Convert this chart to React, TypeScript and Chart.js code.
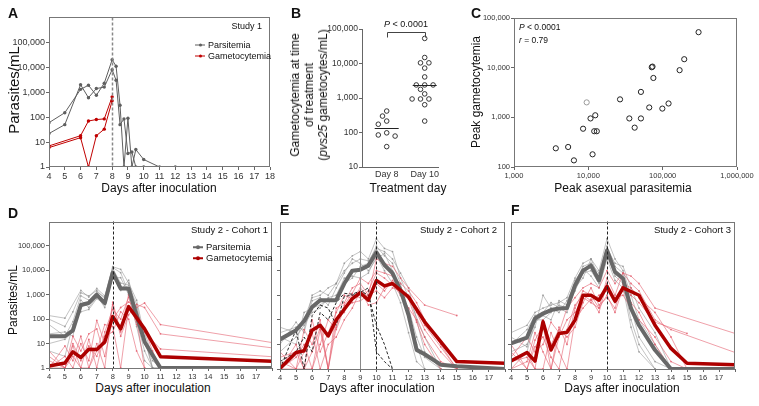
import React, { useEffect, useRef } from 'react';
import { Chart, registerables } from 'chart.js';
Chart.register(...registerables);

const FONT = "'Liberation Sans', Arial, Helvetica, sans-serif";
Chart.defaults.font.family = FONT;

// ---------------- shared ticks ----------------
const DAY_TICKS = [4, 5, 6, 7, 8, 9, 10, 11, 12, 13, 14, 15, 16, 17, 18];
const PARA_TICKS = [1, 10, 100, 1000, 10000, 100000];

// ---------------- Panel A (Study 1) ----------------
const A_PARA_DAYS = [4, 5, 6, 6.5, 7, 7.5, 8, 8.25, 8.5, 8.75, 9, 9.25, 9.5, 10, 11, 12];
const A_PARA_1 = [60, 150, 1300, 1900, 750, 2300, 20000, 11000, 300, 1, 90, 1, 5, 2, 1, 1];
const A_PARA_2 = [22, 50, 2000, 600, 1400, 1600, 8000, 3000, 50, 85, 3.5, 4, 1, 1, null, null];
const A_GAM_DAYS = [4, 6, 6.5, 7, 7.5, 8];
const A_GAM_1 = [7, 18, 70, 80, 85, 650];
const A_GAM_2 = [6, 15, 1, 18, 33, 450];
const A_TREAT_DAY = 8;

// ---------------- Panel B ----------------
const B_GROUPS = ['Day 8', 'Day 10'];
const B_DAY8 = [420, 300, 215, 174, 98, 85, 79, 39];
const B_DAY10 = [53700, 15000, 10500, 10500, 7400, 4100, 2400, 2400, 2400, 1790, 1320, 940, 940, 940, 640, 215];
const B_MEDIANS = [135, 2400];
const B_TICKS = [10, 100, 1000, 10000, 100000];

// ---------------- Panel C ----------------
const C_ASEXUAL = [304000, 195000, 169000, 71300, 73000, 75000, 51000, 26700, 66000, 99000, 120000, 35600, 51000, 42000, 10700, 12400, 8500, 12000, 13000, 3650, 5350, 11400, 6400];
const C_GAMETO = [51800, 14800, 8900, 10200, 10500, 6200, 3250, 2300, 1580, 1500, 1900, 950, 950, 620, 950, 1100, 590, 525, 525, 238, 253, 180, 136];
const C_ASEXUAL_GREY = [9500];
const C_GAMETO_GREY = [2000];
const C_X_TICKS = [1000, 10000, 100000, 1000000];
const C_Y_TICKS = [100, 1000, 10000, 100000];

// ---------------- Panel D (Cohort 1) ----------------
const D_DAYS = [4, 5, 5.5, 6, 6.5, 7, 7.5, 8, 8.5, 9, 9.5, 10, 10.5, 11, 18];
const D_PARA_MEAN = [20, 20, 35, 380, 460, 1000, 450, 8000, 1800, 1800, 140, 12, 3.4, 1, 1];
const D_GAM_MEAN = [1.2, 1.6, 4.6, 2.7, 5.9, 5.7, 11.7, 128, 40, 325, null, 40, null, 2.9, 1.9];
const D_PARA_S1 = [140, 110, null, 1500, 800, 1800, 900, 14000, 11000, 3000, 600, 20, 1, 1, null];
const D_PARA_S2 = [100, 50, 200, 1200, 900, 1500, 700, 12000, 3000, 2500, 400, 10, 2, 1, null];
const D_PARA_S3 = [10, 15, 30, 300, 500, 900, 300, 6000, 2000, 1500, 80, 5, 1, null, null];
const D_PARA_S4 = [25, 30, 20, 600, 300, 800, 500, 9000, 1500, 4000, 200, 30, 3, 1, null];
const D_PARA_S5 = [5, 3, 60, 200, 250, 700, 400, 5000, 5000, 1000, 50, 2, 1, null, null];
const D_PARA_S6 = [60, 20, 80, 900, 600, 1300, 800, 13000, 8000, 1200, 300, 15, 1, 1, null];
const D_GAM_S1 = [2, 1, 20, 5, 25, 40, 3, 100, 300, 500, 300, 460, null, 60, 11];
const D_GAM_S2 = [1, 3, 1, 10, 2, 90, 10, 400, 20, 150, 400, 300, null, 25, 6.7];
const D_GAM_S3 = [5, 1, 8, 1, 15, 1, 30, 250, 100, 800, 60, null, null, 6, 2.9];
const D_GAM_S4 = [1, 8, 2, 20, 1, 5, 60, 50, 1, 300, 100, 1, null, null, null];
const D_GAM_S5 = [3, 1, 10, 2, 8, 3, 20, 30, 200, 100, 5, 1, null, null, null];
const D_GAM_S6 = [1, 1, 3, 1, 1, 10, 1, 500, 30, 1000, 200, 40, 5, 1, null];
const D_TREAT_DAY = 8;

// ---------------- Panel E (Cohort 2) ----------------
const E_DAYS = [4, 5, 5.5, 6, 6.5, 7, 7.5, 8, 8.5, 9, 9.5, 10, 10.5, 11, 11.5, 12, 12.5, 13, 14, 15, 18];
const E_PARA_MEAN = [16, 38, 90, 330, 630, 630, 630, 3000, 10000, 11000, 16000, 56000, 17000, 8000, 1600, 155, 6, 4, 1.5, 1.3, 1];
const E_GAM_MEAN = [1.05, 4.7, 5.5, 38, 60, 22, 100, 270, 730, 1260, 630, 4000, 2400, 3000, 1600, 850, null, 83, 13, 2, 1.7];
const E_PARA_S1 = [50, 30, 100, 800, 1000, 2000, 3000, 20000, 40000, 60000, 30000, 200000, 80000, 60000, 5000, 800, null, 20, 1, null, null];
const E_PARA_S2 = [20, 10, 200, 300, 400, 700, 600, 3000, 5000, 15000, 20000, 100000, 40000, 20000, 3000, 100, 10, 1, null, null, null];
const E_PARA_S3 = [10, 80, 30, 600, 800, 400, 2000, 8000, 30000, 20000, 10000, 30000, 50000, 10000, 1000, 300, 20, 3, 1, null, null];
const E_PARA_S4 = [5, 20, 60, 200, 300, 800, 1000, 5000, 6000, 5000, 8000, 40000, 10000, 3000, 500, 30, 2, 1, null, null, null];
const E_PARA_S5 = [30, 50, 40, 1000, 1500, 1000, 3000, 10000, 20000, 30000, 25000, 80000, 60000, 30000, 8000, 2000, 100, 5, 1, null, null];
const E_PARA_K1 = [1, 40, 1, 150, 400, 300, 60, 900, 1000, 1300, 2000, 5, 2, 1, null, null, null, null, null, null, null];
const E_PARA_K2 = [2, 5, 20, 5, 200, 100, 500, 1200, 1100, 1500, 1000, 60, 10, 1, null, null, null, null, null, null, null];
const E_GAM_S1 = [1, 3, 10, 1, 40, 1, 300, 500, 2000, 3000, 1000, 30000, 20000, 15000, 5000, 2000, null, 400, null, 150, null];
const E_GAM_S2 = [5, 1, 40, 10, 100, 1, 50, 400, 1200, 5000, 3000, 10000, 8000, 6000, 3000, 1500, 500, 100, 10, 1, null];
const E_GAM_S3 = [1, 10, 1, 100, 5, 30, 200, 1000, 700, 2000, 800, 3000, 1500, 4000, 2000, 800, 200, 40, 5, 1, null];
const E_GAM_S4 = [2, 1, 5, 30, 1, 10, 20, 100, 300, 1500, 400, 500, 2000, 3000, 1000, 300, 100, 20, 2, 1, null];
const E_GAM_S5 = [1, 1, 1, 5, 50, 1, 100, 200, 1000, 800, 1500, 8000, 5000, 2500, 1200, 700, 80, 10, 1, null, null];
const E_GAM_S6 = [3, 5, 1, 1, 10, 100, 40, 300, 500, 600, 1000, 1500, 800, 2000, 1500, 1000, 300, 60, 8, 1, null];
const E_EARLY_DAY = 9;
const E_TREAT_DAY = 10;

// ---------------- Panel F (Cohort 3) ----------------
const F_DAYS = [4, 5, 5.5, 6, 6.5, 7, 7.5, 8, 8.5, 9, 9.5, 10, 10.5, 11, 11.5, 12, 13, 14, 15, 18];
const F_PARA_MEAN = [11, 19, 113, 180, 250, 290, 300, 2500, 10000, 16000, 4000, 66000, 8900, 4800, 290, 60, 5.9, 1, 1, 1];
const F_GAM_MEAN = [2.1, 4.7, 2.1, 83, 5.9, 28, 31, 97, 1000, 1000, 630, 2300, 570, 2000, null, 1000, 60, 6.9, 1.7, 1.5];
const F_PARA_S1 = [30, 60, 200, 300, 400, 500, 800, 5000, 20000, 30000, 10000, 200000, 30000, 10000, 1000, 100, 10, 1, null, null];
const F_PARA_S2 = [5, 10, 50, 1000, 300, 200, 600, 3000, 15000, 20000, 8000, 100000, 15000, 8000, 300, 20, 2, 1, null, null];
const F_PARA_S3 = [20, 8, 100, 100, 200, 400, 300, 1500, 8000, 10000, 3000, 50000, 6000, 3000, 100, 10, 1, null, null, null];
const F_PARA_S4 = [10, 40, 150, 200, 500, 300, 200, 2000, 5000, 30000, 5000, 80000, 20000, 15000, 2000, 300, 30, 1, null, null];
const F_PARA_S5 = [2, 5, 80, 150, 100, 600, 400, 4000, 12000, 6000, 2000, 30000, 4000, 2000, 50, 5, 1, null, null, null];
const F_GAM_S1 = [3, 20, 5, 10, 80, 30, 300, 800, 2000, 3000, 2000, 10000, 3000, 8000, 6000, 3000, 300, null, null, 28];
const F_GAM_S2 = [1, 2, 30, 5, 1, 50, 10, 300, 1500, 1000, 300, 5000, 1000, 8000, 3000, 1500, 100, 40, null, 4.7];
const F_GAM_S3 = [10, 1, 15, 60, 1, 20, 100, 200, 800, 500, 300, 1000, 200, 2000, 1000, 500, 80, null, 28, null];
const F_GAM_S4 = [1, 5, 1, 1, 30, 5, 1, 100, 300, 700, 200, 3000, 500, 1500, 500, 200, 10, 1, null, null];
const F_GAM_S5 = [5, 1, 8, 20, 3, 1, 40, 400, 1000, 600, 1000, 1500, 800, 1000, 300, 100, 20, 2, 1, null];
const F_GAM_S6 = [2, 3, 1, 100, 10, 40, 20, 50, 500, 2000, 400, 800, 300, 3000, 2000, 800, 200, 20, 1, null];
const F_TREAT_DAY = 10;

// ---------------- styles ----------------
const PARA_DARK = '#5f5f5f';
const GAM_DARK = '#b00000';
const PARA_THIN = 'rgba(140,140,140,0.75)';
const GAM_THIN = 'rgba(228,95,110,0.85)';
const PARA_MEAN = '#686868';
const GAM_MEAN = '#ad0000';
const AXIS = '#666';
const TICK_TXT = '#333';

function pts(days: number[], vals: (number | null)[]) {
  const out: { x: number; y: number }[] = [];
  days.forEach((d, i) => {
    const v = vals[i];
    if (v != null) out.push({ x: d, y: v });
  });
  return out;
}
const fmt = (v: number) => Number(v).toLocaleString('en-US');

const framePlugin = {
  id: 'frame',
  afterDraw(chart: any, _a: any, opts: any) {
    if (!opts || !opts.show) return;
    const { ctx, chartArea: a } = chart;
    ctx.save();
    ctx.strokeStyle = opts.color || '#777';
    ctx.lineWidth = 1;
    ctx.strokeRect(Math.round(a.left) + 0.5, Math.round(a.top) + 0.5, Math.round(a.right - a.left) - 1, Math.round(a.bottom - a.top) - 1);
    ctx.restore();
  },
};

const vlinePlugin = {
  id: 'vlines',
  afterDatasetsDraw(chart: any, _a: any, opts: any) {
    const lines = (opts && opts.lines) || [];
    const { ctx, chartArea: a, scales } = chart;
    lines.forEach((l: any) => {
      const x = Math.round(scales.x.getPixelForValue(l.value)) + 0.5;
      ctx.save();
      ctx.strokeStyle = l.color;
      ctx.lineWidth = l.width;
      ctx.setLineDash(l.dash || []);
      ctx.beginPath();
      ctx.moveTo(x, a.top);
      ctx.lineTo(x, a.bottom);
      ctx.stroke();
      ctx.restore();
    });
  },
};

type Rect = { l: number; t: number; r: number; b: number };
type Geo = { rect: Rect; yW: number; xH: number; padTop: number; padRight: number };

function CanvasChart({ geo, make }: { geo: Geo; make: (g: Geo) => any }) {
  const ref = useRef<HTMLCanvasElement>(null);
  const { rect, yW, xH, padTop, padRight } = geo;
  const width = yW + (rect.r - rect.l) + padRight;
  const height = padTop + (rect.b - rect.t) + xH;
  useEffect(() => {
    const cfg = make(geo);
    cfg.options.layout = { padding: { left: 0, top: padTop, right: padRight, bottom: 0 } };
    const chart = new Chart(ref.current as HTMLCanvasElement, cfg);
    return () => chart.destroy();
  }, []);
  return (
    <canvas
      ref={ref}
      width={width}
      height={height}
      style={{ position: 'absolute', left: rect.l - yW, top: rect.t - padTop, width, height }}
    />
  );
}

function baseOptions(extraPlugins: any) {
  return {
    responsive: false,
    animation: false,
    devicePixelRatio: 1,
    plugins: { legend: { display: false }, tooltip: { enabled: false }, ...extraPlugins },
  };
}

function timeScales(g: Geo, tickSize: number, showY: boolean, hide18: boolean) {
  return {
    x: {
      type: 'linear',
      min: 4,
      max: 18,
      afterBuildTicks: (s: any) => { s.ticks = DAY_TICKS.map((v) => ({ value: v })); },
      afterFit: (s: any) => { s.height = g.xH; },
      ticks: {
        autoSkip: false,
        maxRotation: 0,
        padding: 1,
        color: TICK_TXT,
        font: { size: tickSize },
        callback: (v: any) => (hide18 && v === 18 ? '' : String(v)),
      },
      grid: { display: true, drawOnChartArea: false, drawTicks: true, tickLength: 3, color: AXIS },
      border: { display: false },
    },
    y: {
      type: 'logarithmic',
      min: 1,
      max: 1000000,
      afterBuildTicks: (s: any) => { s.ticks = PARA_TICKS.map((v) => ({ value: v })); },
      afterFit: (s: any) => { s.width = g.yW; },
      ticks: {
        autoSkip: false,
        padding: 1,
        color: TICK_TXT,
        font: { size: tickSize },
        callback: (v: any) => (showY ? fmt(v) : ''),
      },
      grid: { display: true, drawOnChartArea: false, drawTicks: true, tickLength: 3, color: AXIS },
      border: { display: false },
    },
  };
}

const thin = (data: any, color: string, extra: any = {}) => ({
  data,
  borderColor: color,
  backgroundColor: color,
  borderWidth: 0.7,
  pointRadius: 0.9,
  pointBorderWidth: 0,
  ...extra,
});
const mean = (data: any, color: string, w: number) => ({
  data,
  borderColor: color,
  backgroundColor: color,
  borderWidth: w,
  pointRadius: 0,
  borderJoinStyle: 'round',
});

// ---------- configs ----------
function makeA(g: Geo) {
  const line = (d: any, c: string) => ({ data: d, borderColor: c, backgroundColor: c, borderWidth: 1, pointRadius: 1.7, pointBorderWidth: 0 });
  return {
    type: 'line',
    data: {
      datasets: [
        line(pts(A_GAM_DAYS, A_GAM_1), '#c00000'),
        line(pts(A_GAM_DAYS, A_GAM_2), '#c00000'),
        line(pts(A_PARA_DAYS, A_PARA_1), PARA_DARK),
        line(pts(A_PARA_DAYS, A_PARA_2), PARA_DARK),
      ],
    },
    options: {
      ...baseOptions({ frame: { show: true, color: '#777' }, vlines: { lines: [{ value: A_TREAT_DAY, color: '#888', width: 1.5, dash: [3, 2] }] } }),
      scales: timeScales(g, 9, true, false),
    },
    plugins: [framePlugin, vlinePlugin],
  };
}

function makeTime(g: Geo, datasets: any[], lines: any[], showY: boolean) {
  return {
    type: 'line',
    data: { datasets },
    options: {
      ...baseOptions({ frame: { show: true, color: '#777' }, vlines: { lines } }),
      scales: timeScales(g, 7.5, showY, true),
    },
    plugins: [framePlugin, vlinePlugin],
  };
}

function makeD(g: Geo) {
  const ds = [
    mean(pts(D_DAYS, D_GAM_MEAN), GAM_MEAN, 3.5),
    mean(pts(D_DAYS, D_PARA_MEAN), PARA_MEAN, 4),
    ...[D_GAM_S1, D_GAM_S2, D_GAM_S3, D_GAM_S4, D_GAM_S5, D_GAM_S6].map((s) => thin(pts(D_DAYS, s), GAM_THIN)),
    ...[D_PARA_S1, D_PARA_S2, D_PARA_S3, D_PARA_S4, D_PARA_S5, D_PARA_S6].map((s) => thin(pts(D_DAYS, s), PARA_THIN)),
  ];
  return makeTime(g, ds, [{ value: D_TREAT_DAY, color: '#222', width: 1, dash: [3, 2] }], true);
}

function makeE(g: Geo) {
  const ds = [
    mean(pts(E_DAYS, E_GAM_MEAN), GAM_MEAN, 3.5),
    mean(pts(E_DAYS, E_PARA_MEAN), PARA_MEAN, 4),
    ...[E_PARA_K1, E_PARA_K2].map((s) => thin(pts(E_DAYS, s), '#111', { borderDash: [3, 2], borderWidth: 0.9, pointRadius: 0 })),
    ...[E_GAM_S1, E_GAM_S2, E_GAM_S3, E_GAM_S4, E_GAM_S5, E_GAM_S6].map((s) => thin(pts(E_DAYS, s), GAM_THIN)),
    ...[E_PARA_S1, E_PARA_S2, E_PARA_S3, E_PARA_S4, E_PARA_S5].map((s) => thin(pts(E_DAYS, s), PARA_THIN)),
  ];
  return makeTime(
    g,
    ds,
    [
      { value: E_EARLY_DAY, color: '#888', width: 1, dash: [] },
      { value: E_TREAT_DAY, color: '#222', width: 1, dash: [3, 2] },
    ],
    false
  );
}

function makeF(g: Geo) {
  const ds = [
    mean(pts(F_DAYS, F_GAM_MEAN), GAM_MEAN, 3.5),
    mean(pts(F_DAYS, F_PARA_MEAN), PARA_MEAN, 4),
    ...[F_GAM_S1, F_GAM_S2, F_GAM_S3, F_GAM_S4, F_GAM_S5, F_GAM_S6].map((s) => thin(pts(F_DAYS, s), GAM_THIN)),
    ...[F_PARA_S1, F_PARA_S2, F_PARA_S3, F_PARA_S4, F_PARA_S5].map((s) => thin(pts(F_DAYS, s), PARA_THIN)),
  ];
  return makeTime(g, ds, [{ value: F_TREAT_DAY, color: '#222', width: 1, dash: [3, 2] }], false);
}

// beeswarm offsets (px) computed from the values
function swarm(values: number[], pxPerDecade: number, step: number, minDist: number) {
  const order = values.map((_, i) => i).sort((a, b) => values[b] - values[a]);
  const placed: { x: number; y: number }[] = [];
  const off = new Array(values.length).fill(0);
  const cands = [0, -1, 1, -2, 2, -3, 3].map((k) => k * step);
  order.forEach((i) => {
    const y = Math.log10(values[i]) * pxPerDecade;
    for (const c of cands) {
      if (placed.every((p) => (p.x - c) ** 2 + (p.y - y) ** 2 >= minDist * minDist)) {
        off[i] = c;
        placed.push({ x: c, y });
        break;
      }
    }
  });
  return off;
}

function makeB(g: Geo) {
  const plotW = g.rect.r - g.rect.l;
  const plotH = g.rect.b - g.rect.t;
  const xMin = -0.3, xMax = 3.7;
  const pxPerUnit = plotW / (xMax - xMin);
  const pxPerDecade = plotH / 4;
  const groupX = [1, 3];
  const groups = [B_DAY8, B_DAY10];
  const datasets = groups.map((vals, gi) => {
    const off = swarm(vals, pxPerDecade, 4.2, 6);
    return {
      data: vals.map((v, i) => ({ x: groupX[gi] + off[i] / pxPerUnit, y: v })),
      pointRadius: 2.3,
      pointBorderWidth: 0.9,
      borderColor: '#222',
      backgroundColor: 'rgba(255,255,255,0)',
    };
  });
  const bPlugin = {
    id: 'bextras',
    afterDatasetsDraw(chart: any) {
      const { ctx, scales, chartArea: a } = chart;
      ctx.save();
      ctx.strokeStyle = '#222';
      ctx.lineWidth = 1;
      B_MEDIANS.forEach((m, i) => {
        const x = scales.x.getPixelForValue(groupX[i]);
        const y = Math.round(scales.y.getPixelForValue(m)) + 0.5;
        ctx.beginPath();
        ctx.moveTo(x - 12, y);
        ctx.lineTo(x + 12, y);
        ctx.stroke();
      });
      const x1 = Math.round(scales.x.getPixelForValue(groupX[0])) + 0.5;
      const x2 = Math.round(scales.x.getPixelForValue(groupX[1])) + 0.5;
      const yb = Math.round(a.top) + 3.5;
      ctx.strokeStyle = '#444';
      ctx.beginPath();
      ctx.moveTo(x1, yb + 5);
      ctx.lineTo(x1, yb);
      ctx.lineTo(x2, yb);
      ctx.lineTo(x2, yb + 5);
      ctx.stroke();
      ctx.restore();
    },
  };
  return {
    type: 'scatter',
    data: { datasets },
    options: {
      ...baseOptions({}),
      scales: {
        x: {
          type: 'linear',
          min: xMin,
          max: xMax,
          afterBuildTicks: (s: any) => { s.ticks = groupX.map((v) => ({ value: v })); },
          afterFit: (s: any) => { s.height = g.xH; },
          ticks: { autoSkip: false, maxRotation: 0, padding: 2, color: TICK_TXT, font: { size: 9 }, callback: (_v: any, i: number) => B_GROUPS[i] },
          grid: { display: false, drawTicks: false },
          border: { display: true, color: AXIS },
        },
        y: {
          type: 'logarithmic',
          min: 10,
          max: 100000,
          afterBuildTicks: (s: any) => { s.ticks = B_TICKS.map((v) => ({ value: v })); },
          afterFit: (s: any) => { s.width = g.yW; },
          ticks: { autoSkip: false, padding: 1, color: TICK_TXT, font: { size: 8.5 }, callback: (v: any) => fmt(v) },
          grid: { display: true, drawOnChartArea: false, drawTicks: true, tickLength: 3, color: AXIS },
          border: { display: true, color: AXIS },
        },
      },
    },
    plugins: [bPlugin],
  };
}

function makeC(g: Geo) {
  const mk = (xs: number[], ys: number[], color: string) => ({
    data: xs.map((x, i) => ({ x, y: ys[i] })),
    pointRadius: 2.6,
    pointBorderWidth: 1,
    borderColor: color,
    backgroundColor: 'rgba(255,255,255,0)',
  });
  return {
    type: 'scatter',
    data: { datasets: [mk(C_ASEXUAL, C_GAMETO, '#222'), mk(C_ASEXUAL_GREY, C_GAMETO_GREY, '#999')] },
    options: {
      ...baseOptions({ frame: { show: true, color: '#777' } }),
      scales: {
        x: {
          type: 'logarithmic',
          min: 1000,
          max: 1000000,
          afterBuildTicks: (s: any) => { s.ticks = C_X_TICKS.map((v) => ({ value: v })); },
          afterFit: (s: any) => { s.height = g.xH; },
          ticks: { autoSkip: false, maxRotation: 0, padding: 1, color: TICK_TXT, font: { size: 7.5 }, callback: (v: any) => fmt(v) },
          grid: { display: true, drawOnChartArea: false, drawTicks: true, tickLength: 3, color: AXIS },
          border: { display: false },
        },
        y: {
          type: 'logarithmic',
          min: 100,
          max: 100000,
          afterBuildTicks: (s: any) => { s.ticks = C_Y_TICKS.map((v) => ({ value: v })); },
          afterFit: (s: any) => { s.width = g.yW; },
          ticks: { autoSkip: false, padding: 1, color: TICK_TXT, font: { size: 7.5 }, callback: (v: any) => fmt(v) },
          grid: { display: true, drawOnChartArea: false, drawTicks: true, tickLength: 3, color: AXIS },
          border: { display: false },
        },
      },
    },
    plugins: [framePlugin],
  };
}

// ---------- geometry ----------
const GEO_A: Geo = { rect: { l: 49, t: 17, r: 270, b: 167 }, yW: 40, xH: 14, padTop: 6, padRight: 10 };
const GEO_B: Geo = { rect: { l: 362, t: 29, r: 438, b: 167 }, yW: 36, xH: 14, padTop: 6, padRight: 8 };
const GEO_C: Geo = { rect: { l: 514, t: 18, r: 737, b: 167 }, yW: 36, xH: 14, padTop: 6, padRight: 21 };
const GEO_D: Geo = { rect: { l: 49, t: 220, r: 272, b: 368 }, yW: 40, xH: 12, padTop: 4, padRight: 4 };
const GEO_E: Geo = { rect: { l: 280, t: 220, r: 505, b: 369 }, yW: 6, xH: 12, padTop: 4, padRight: 4 };
const GEO_F: Geo = { rect: { l: 511, t: 220, r: 735, b: 369 }, yW: 6, xH: 12, padTop: 4, padRight: 4 };

// ---------- text helpers ----------
const T = (props: { x: number; y: number; size: number; children: any; bold?: boolean; rot?: boolean; align?: 'center' | 'left' | 'right'; color?: string; lh?: number }) => {
  const { x, y, size, bold, rot, align = 'center', color = '#111', lh } = props;
  const tx = align === 'center' ? '-50%' : align === 'right' ? '-100%' : '0';
  return (
    <div
      style={{
        position: 'absolute',
        left: x,
        top: y,
        transform: `translate(${tx}, -50%)${rot ? ' rotate(-90deg)' : ''}`,
        transformOrigin: rot ? 'center center' : undefined,
        fontSize: size,
        fontWeight: bold ? 700 : 400,
        fontFamily: FONT,
        color,
        whiteSpace: 'nowrap',
        lineHeight: lh ? `${lh}px` : 1,
        textAlign: 'center',
      }}
    >
      {props.children}
    </div>
  );
};

function LegendRow({ x, y, color, label, thick, size }: { x: number; y: number; color: string; label: string; thick: boolean; size: number }) {
  return (
    <div style={{ position: 'absolute', left: x, top: y, transform: 'translateY(-50%)', display: 'flex', alignItems: 'center', fontFamily: FONT, fontSize: size, color: '#111', lineHeight: 1, whiteSpace: 'nowrap' }}>
      <div style={{ position: 'relative', width: 10, height: 6, marginRight: 3 }}>
        <div style={{ position: 'absolute', left: 0, right: 0, top: thick ? 1.8 : 2.5, height: thick ? 2.4 : 1, background: color }} />
        <div style={{ position: 'absolute', left: thick ? 3 : 3.5, top: thick ? 1 : 1.5, width: thick ? 4 : 3, height: thick ? 4 : 3, borderRadius: '50%', background: color }} />
      </div>
      {label}
    </div>
  );
}

export default function App() {
  return (
    <div style={{ position: 'absolute', left: 0, top: 0, width: 759, height: 406, background: '#fff', overflow: 'hidden' }}>
      <CanvasChart geo={GEO_A} make={makeA} />
      <CanvasChart geo={GEO_B} make={makeB} />
      <CanvasChart geo={GEO_C} make={makeC} />
      <CanvasChart geo={GEO_D} make={makeD} />
      <CanvasChart geo={GEO_E} make={makeE} />
      <CanvasChart geo={GEO_F} make={makeF} />

      {/* panel letters */}
      <T x={8} y={13} size={14} bold align="left">A</T>
      <T x={291} y={13} size={14} bold align="left">B</T>
      <T x={471} y={13} size={14} bold align="left">C</T>
      <T x={8} y={213} size={14} bold align="left">D</T>
      <T x={280} y={210} size={14} bold align="left">E</T>
      <T x={511} y={210} size={14} bold align="left">F</T>

      {/* panel A */}
      <T x={13} y={90} size={15} rot>Parasites/mL</T>
      <T x={159} y={188} size={12}>Days after inoculation</T>
      <T x={262} y={26} size={9} align="right">Study 1</T>
      <LegendRow x={195} y={45} color={PARA_DARK} label="Parsitemia" thick={false} size={9} />
      <LegendRow x={195} y={56} color="#c00000" label="Gametocytemia" thick={false} size={9} />

      {/* panel B */}
      <T x={309} y={95} size={12} rot lh={14}>
        Gametocytemia at time<br />of treatment<br />(<i>pvs25</i> gametocytes/mL)
      </T>
      <T x={408} y={188} size={12}>Treatment day</T>
      <T x={406} y={24} size={9}><i>P</i> &lt; 0.0001</T>

      {/* panel C */}
      <T x={476} y={92} size={12} rot>Peak gametocytemia</T>
      <T x={623} y={188} size={12}>Peak asexual parasitemia</T>
      <T x={519} y={27} size={8.5} align="left"><i>P</i> &lt; 0.0001</T>
      <T x={519} y={40} size={8.5} align="left"><i>r</i> = 0.79</T>

      {/* panel D */}
      <T x={13} y={300} size={12} rot>Parasites/mL</T>
      <T x={153} y={388} size={12}>Days after inoculation</T>
      <T x={268} y={230} size={9.5} align="right">Study 2 - Cohort 1</T>
      <LegendRow x={193} y={247} color={PARA_MEAN} label="Parsitemia" thick size={9.5} />
      <LegendRow x={193} y={258} color={GAM_MEAN} label="Gametocytemia" thick size={9.5} />

      {/* panel E */}
      <T x={377} y={388} size={12}>Days after inoculation</T>
      <T x={497} y={230} size={9.5} align="right">Study 2 - Cohort 2</T>

      {/* panel F */}
      <T x={622} y={388} size={12}>Days after inoculation</T>
      <T x={731} y={230} size={9.5} align="right">Study 2 - Cohort 3</T>
    </div>
  );
}
